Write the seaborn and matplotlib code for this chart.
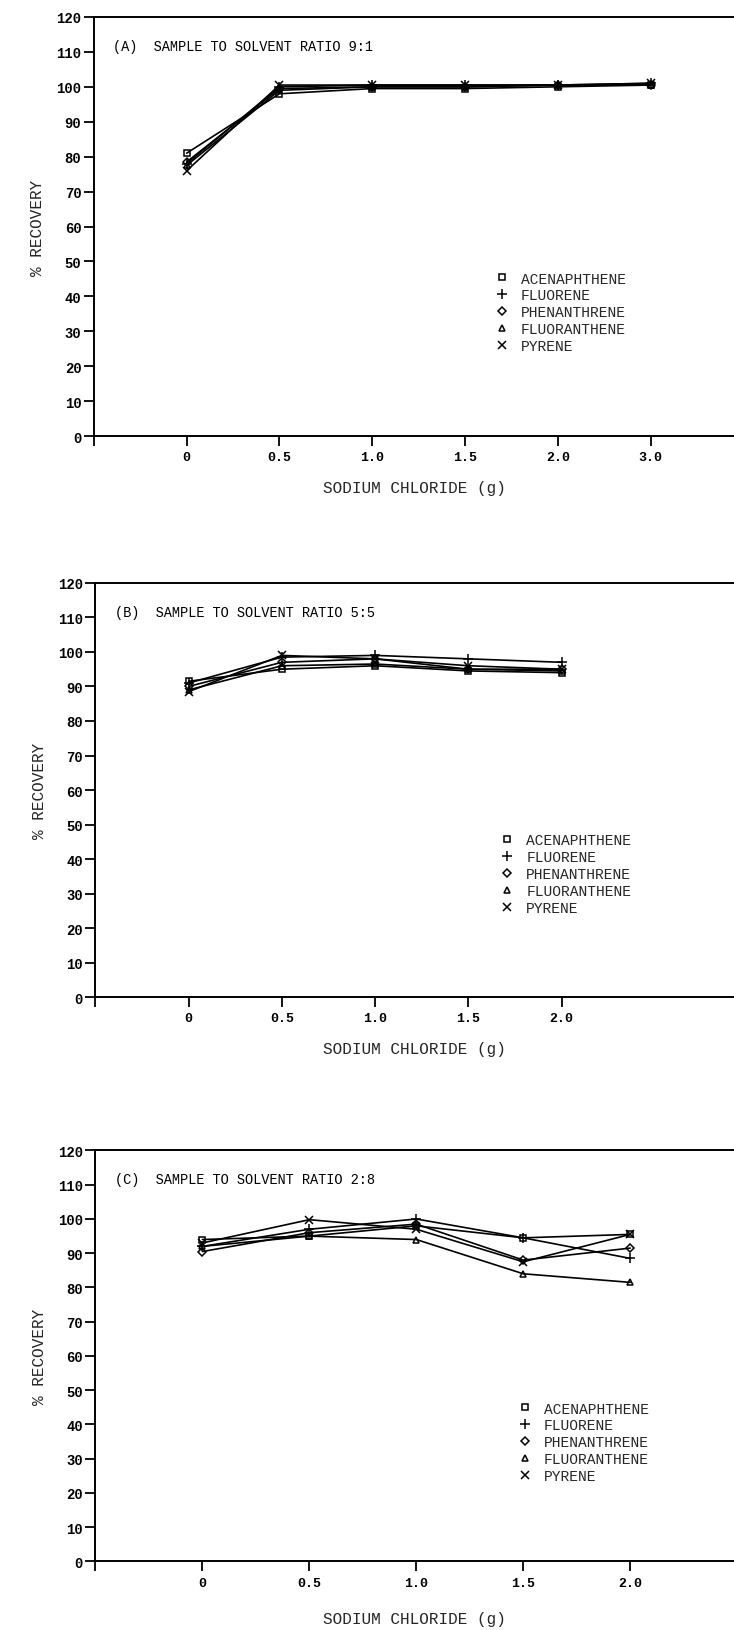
import matplotlib
matplotlib.use("Agg")
import matplotlib.pyplot as plt
from matplotlib.lines import Line2D
import seaborn as sns
import pandas as pd

sns.set_theme(style="white")
plt.rcParams['font.family'] = ['Liberation Mono', 'DejaVu Sans Mono']

compounds = ["ACENAPHTHENE", "FLUORENE", "PHENANTHRENE", "FLUORANTHENE", "PYRENE"]
markers = ["s", "+", "D", "^", "x"]
msizes = [5, 6.5, 4.5, 5, 6]

nacl_a = ["0", "0.5", "1.0", "1.5", "2.0", "3.0"]
vals_a = {
    "ACENAPHTHENE": [81, 98, 99.5, 99.5, 100, 100.5],
    "FLUORENE": [78, 100, 100.5, 100.5, 100.5, 101],
    "PHENANTHRENE": [78.5, 99.5, 100, 100, 100.5, 100.5],
    "FLUORANTHENE": [77.5, 99, 100, 100, 100.5, 100.5],
    "PYRENE": [76, 100.5, 100.5, 100.5, 100.5, 101],
}

nacl_b = ["0", "0.5", "1.0", "1.5", "2.0"]
vals_b = {
    "ACENAPHTHENE": [91.5, 95, 96, 94.5, 94],
    "FLUORENE": [91, 98.5, 99, 98, 97],
    "PHENANTHRENE": [90, 97, 98, 95, 95],
    "FLUORANTHENE": [89, 96, 96.5, 95, 94.5],
    "PYRENE": [88.5, 99, 98, 96, 95],
}

nacl_c = ["0", "0.5", "1.0", "1.5", "2.0"]
vals_c = {
    "ACENAPHTHENE": [94, 95, 98, 94.5, 95.5],
    "FLUORENE": [92, 97, 100, 94.5, 88.5],
    "PHENANTHRENE": [90.5, 96, 98.5, 88, 91.5],
    "FLUORANTHENE": [92, 95, 94, 84, 81.5],
    "PYRENE": [93, 99.8, 97, 87.5, 95.5],
}

titles = ["(A)  SAMPLE TO SOLVENT RATIO 9:1",
          "(B)  SAMPLE TO SOLVENT RATIO 5:5",
          "(C)  SAMPLE TO SOLVENT RATIO 2:8"]
yticks = list(range(0, 121, 10))

fig = plt.figure(figsize=(7.34, 16.31), dpi=100)
fig.patch.set_facecolor("white")

# rect, legend x, legend y, xmax, xlabel pad
panels = [
    (nacl_a, vals_a, [0.128, 0.732, 0.872, 0.257], 0.615, 0.41, 5.9, 12),
    (nacl_b, vals_b, [0.130, 0.388, 0.870, 0.254], 0.622, 0.414, 5.85, 12),
    (nacl_c, vals_c, [0.130, 0.042, 0.870, 0.252], 0.650, 0.407, 4.97, 16),
]

for i, (cats, vals, rect, lx, ly, xmax, xpad) in enumerate(panels):
    ax = fig.add_axes(rect)
    idx = list(range(len(cats)))
    for comp, mk, ms in zip(compounds, markers, msizes):
        df = pd.DataFrame({"x": idx, "y": vals[comp]})
        sns.lineplot(data=df, x="x", y="y", ax=ax, color="black", lw=1.2,
                     marker=mk, markersize=ms, mfc="none", mec="black", mew=1.1)
    ax.set_xlim(-1, xmax)
    ax.set_ylim(0, 120)
    ax.set_xticks([-1] + idx)
    ax.set_xticklabels([""] + cats, fontsize=9.5, fontweight="bold")
    ax.set_yticks(yticks)
    ax.set_yticklabels([str(t) for t in yticks], fontsize=10, fontweight="bold")
    ax.tick_params(axis="both", direction="out", length=7, width=1.3,
                   colors="black", pad=2, bottom=True, left=True)
    ax.tick_params(axis="x", pad=4)
    for s in ["left", "bottom", "top"]:
        ax.spines[s].set_visible(True)
        ax.spines[s].set_color("black")
        ax.spines[s].set_linewidth(1.4)
    ax.spines["right"].set_visible(False)
    ax.set_facecolor("white")
    ax.set_xlabel("SODIUM CHLORIDE (g)", fontsize=11.5, labelpad=xpad)
    ax.set_ylabel("% RECOVERY", fontsize=11.5, labelpad=8)
    ax.text(0.03, 0.93, titles[i], transform=ax.transAxes, fontsize=9.8,
            ha="left", va="center", color="black")
    handles = [Line2D([], [], ls="none", marker=mk, color="black", mfc="none",
                      markersize=ms, mew=1.1)
               for mk, ms in zip(markers, msizes)]
    ax.legend(handles, compounds, loc="upper left", bbox_to_anchor=(lx, ly),
              frameon=False, fontsize=10.5, handlelength=1.0, handletextpad=0.8,
              labelspacing=0.2, borderpad=0)

fig.savefig("out.png", dpi=100, facecolor="white")
